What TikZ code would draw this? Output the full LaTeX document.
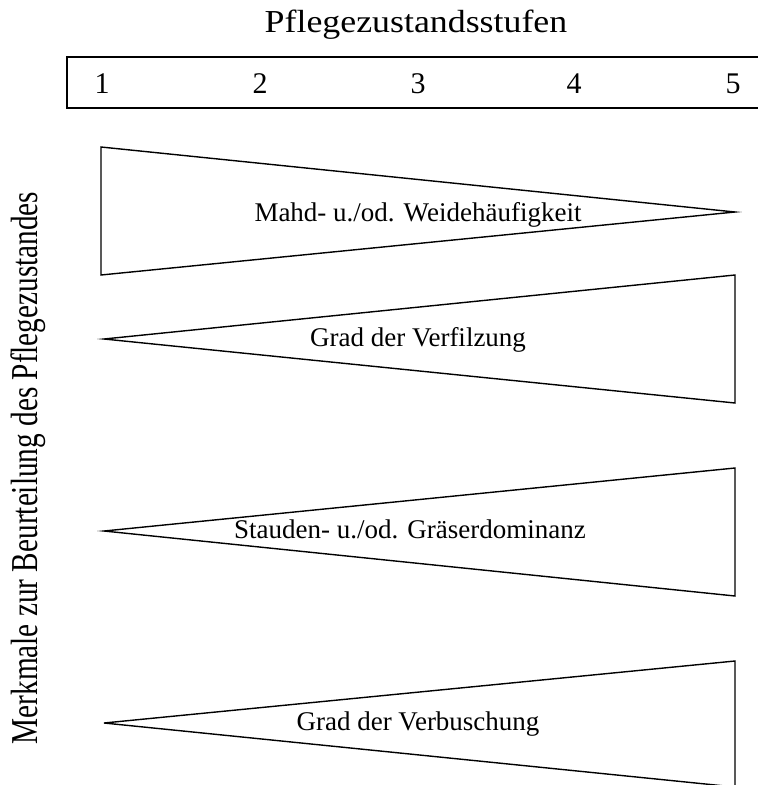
\documentclass[tikz,border=0pt]{standalone}
\usepackage{fontspec}
\setmainfont{Liberation Serif}
\usepackage{tikz}

\begin{document}
\begin{tikzpicture}[x=1pt,y=-1pt,
  keil/.style={draw=black,line width=1.4pt,line join=miter},
  merkmal/.style={font=\fontsize{27}{29}\selectfont,inner sep=0pt,anchor=base},
  stufe/.style={font=\fontsize{30}{32}\selectfont,inner sep=0pt,anchor=base}]
\useasboundingbox (0,0) rectangle (758,785);
\clip (0,0) rectangle (758,785);
% title and scale bar
\node[font=\fontsize{32}{34}\selectfont,inner sep=0pt,anchor=base,xscale=1.12] (titel) at (416,32) {Pflegezustandsstufen};
\draw[line width=2.8pt] (770,57) -- (67,57) -- (67,108) -- (770,108);
\foreach \n/\x in {1/102,2/260,3/418,4/574,5/733}
  \node[stufe] (stufe\n) at (\x,93) {\n};
% side label
\node[rotate=90,xscale=0.77,anchor=base,inner sep=0pt,font=\fontsize{38}{40}\selectfont] (seite) at (37,468) {Merkmale zur Beurteilung des Pflegezustandes};
% wedges
\draw[keil] (101,147) -- (735,212) -- (101,275) -- cycle;
\draw[keil] (104,339) -- (735,275) -- (735,403) -- cycle;
\draw[keil] (104,531) -- (735,468) -- (735,596) -- cycle;
\draw[keil] (104,723) -- (735,661) -- (735,787) -- cycle;
\node[merkmal] (mahd) at (418,221) {Mahd- u./od. Weidehäufigkeit};
\node[merkmal] (filz) at (418,346) {Grad der Verfilzung};
\node[merkmal] (stauden) at (410,538) {Stauden- u./od. Gräserdominanz};
\node[merkmal] (busch) at (418,730) {Grad der Verbuschung};
\end{tikzpicture}
\end{document}
